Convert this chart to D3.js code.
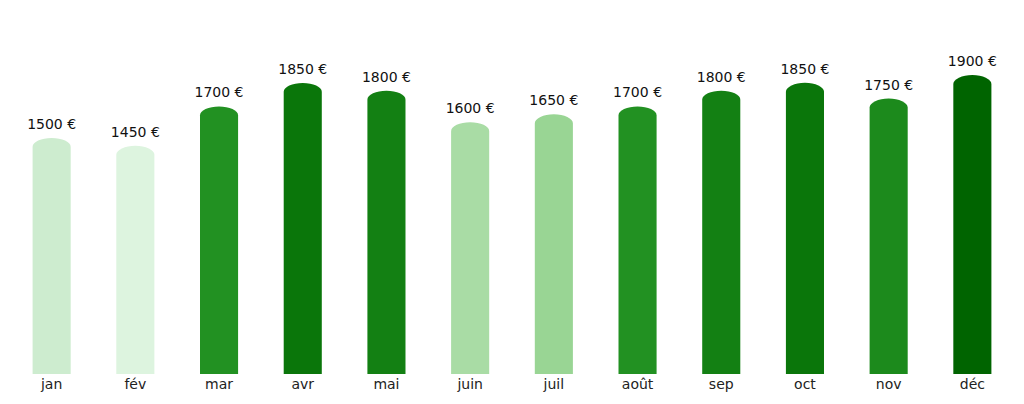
<!DOCTYPE html>
<html><head><meta charset="utf-8">
<script src="https://cdn.jsdelivr.net/npm/d3@7"></script>
<style>body{margin:0;background:#fff}text{font-family:"DejaVu Sans",sans-serif}</style>
</head><body><svg id="chart" width="1024" height="404"></svg>
<script>
var months = ["jan","fév","mar","avr","mai","juin","juil","août","sep","oct","nov","déc"];
var amounts = [1500,1450,1700,1850,1800,1600,1650,1700,1800,1850,1750,1900];
var barColors = ["#cdeccf","#ddf4df","#229122","#0a760a","#138013","#a9dca5","#99d594","#229122","#138013","#0a760a","#1c8a1c","#006400"];

var svg = d3.select("#chart");
var x = d3.scaleBand().domain(months).range([10, 1014]).paddingInner(0.545).paddingOuter(0.27);
var y = d3.scaleLinear().domain([0, 1900]).range([374, 75]);
var r = 9;

svg.selectAll("path.bar").data(months).enter().append("path")
  .attr("fill", (d, i) => barColors[i])
  .attr("d", (d, i) => {
    var x0 = x(d), w = x.bandwidth(), top = y(amounts[i]), b = y(0);
    return `M${x0},${b}V${top + r}A${w / 2},${r} 0 0 1 ${x0 + w},${top + r}V${b}Z`;
  });

svg.selectAll("text.val").data(months).enter().append("text")
  .attr("x", d => x(d) + x.bandwidth() / 2)
  .attr("y", (d, i) => y(amounts[i]) - 9)
  .attr("text-anchor", "middle").attr("font-size", 14).attr("fill", "#111")
  .text((d, i) => amounts[i] + " €");

var axis = svg.append("g").attr("transform", "translate(0,374)")
  .call(d3.axisBottom(x).tickSize(0).tickPadding(5));
axis.select(".domain").remove();
axis.selectAll("text").attr("font-size", 14).attr("fill", "#222").style("font-family", "DejaVu Sans");
</script></body></html>
